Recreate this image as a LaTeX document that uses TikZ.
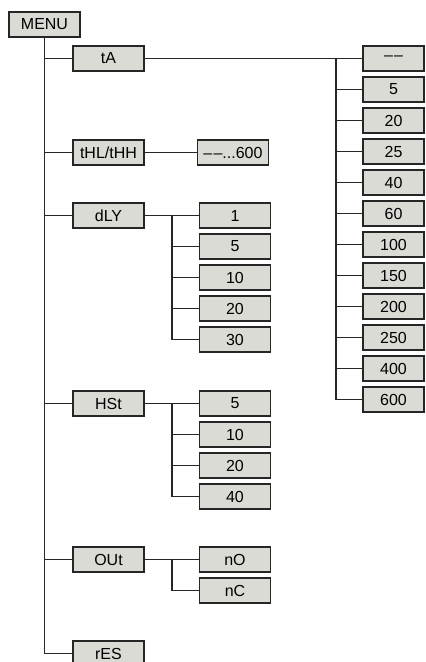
\documentclass[tikz,border=0pt]{standalone}
\usepackage{fontspec}
\setmainfont{Liberation Sans}
\definecolor{boxgray}{RGB}{219,219,214}
\definecolor{linegray}{RGB}{38,38,38}
\newcommand{\twodash}{\textendash\hspace{1.2pt}\textendash}
\tikzset{
	menubox/.style={draw=linegray, fill=boxgray, line width=1.6pt, rectangle, minimum width=71pt, minimum height=25pt, inner sep=0pt, font=\fontsize{16}{19}\selectfont},
	valbox/.style={menubox, minimum width=61pt},
	branch/.style={linegray, line width=1.4pt}
}
\begin{document}
\begin{tikzpicture}[x=1pt, y=-1pt]
			\useasboundingbox (0,0) rectangle (426,662);

			\draw (44.5,24.5) node (menu) [menubox] {MENU};
			\draw (108.5,58.5) node (tA) [menubox] {tA};
			\draw (108.5,152.5) node (tHL) [menubox] {tHL/tHH};
			\draw (108.5,215.5) node (dLY) [menubox] {dLY};
			\draw (108.5,403.5) node (HSt) [menubox] {HSt};
			\draw (108.5,559.5) node (OUt) [menubox] {OUt};
			\draw (108.5,653.5) node (rES) [menubox] {rES};

			\draw (233,152.5) node (tHLval) [menubox] {\twodash...600};

			\foreach \v [count=\i from 0] in {{\twodash},5,20,25,40,60,100,150,200,250,400,600}
				\draw (393.5,58.5+31*\i) node (a\i) [valbox] {\v};
			\foreach \v [count=\i from 0] in {1,5,10,20,30}
				\draw (235,215.5+31*\i) node (d\i) [menubox] {\v};
			\foreach \v [count=\i from 0] in {5,10,20,40}
				\draw (235,403.5+31*\i) node (h\i) [menubox] {\v};
			\draw (235,559.5) node (o0) [menubox] {nO};
			\draw (235,590.5) node (o1) [menubox] {nC};

			\coordinate (tAfork) at (336,58.5);
			\coordinate (dLYfork) at (172,215.5);
			\coordinate (HStfork) at (172,403.5);
			\coordinate (OUtfork) at (172,559.5);

			\draw[branch] (menu.south) |- (rES.west);
			\foreach \n in {tA,tHL,dLY,HSt,OUt}
				\draw[branch] (menu.south |- \n) -- (\n.west);

			\draw[branch] (tA.east) -- (a0.west);
			\draw[branch] (tAfork) |- (a11.west);
			\foreach \i in {1,...,10}
				\draw[branch] (tAfork |- a\i) -- (a\i.west);

			\draw[branch] (tHL.east) -- (tHLval.west);

			\draw[branch] (dLY.east) -- (d0.west);
			\draw[branch] (dLYfork) |- (d4.west);
			\foreach \i in {1,2,3}
				\draw[branch] (dLYfork |- d\i) -- (d\i.west);

			\draw[branch] (HSt.east) -- (h0.west);
			\draw[branch] (HStfork) |- (h3.west);
			\foreach \i in {1,2}
				\draw[branch] (HStfork |- h\i) -- (h\i.west);

			\draw[branch] (OUt.east) -- (o0.west);
			\draw[branch] (OUtfork) |- (o1.west);
		\end{tikzpicture}
\end{document}
